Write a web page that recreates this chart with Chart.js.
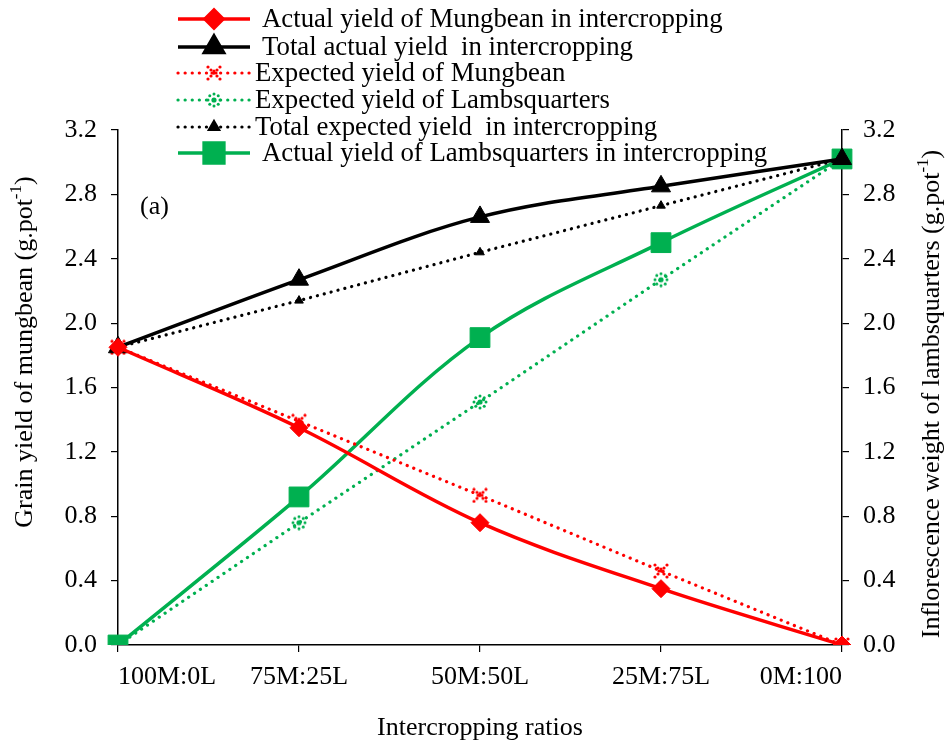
<!DOCTYPE html>
<html>
<head>
<meta charset="utf-8">
<script src="https://cdn.jsdelivr.net/npm/chart.js@4.4.1/dist/chart.umd.min.js"></script>
<style>
  html, body { margin: 0; padding: 0; background: #ffffff; }
  #wrap { width: 946px; height: 747px; position: relative; }
</style>
</head>
<body>
<div id="wrap"><canvas id="c" width="946" height="747"></canvas></div>
<script>
// Intercropping ratios (x categories)
const ratios = ['100M:0L', '75M:25L', '50M:50L', '25M:75L', '0M:100'];

// Yields, g.pot-1
const mungbeanActual   = [1.85, 1.35, 0.76, 0.35, 0.00];
const totalActual      = [1.85, 2.27, 2.66, 2.85, 3.02];
const mungbeanExpected = [1.85, 1.39, 0.93, 0.46, 0.00];
const lambsExpected    = [0.00, 0.76, 1.51, 2.27, 3.02];
const totalExpected    = [1.85, 2.14, 2.44, 2.73, 3.02];
const lambsActual      = [0.00, 0.92, 1.91, 2.50, 3.02];

// Axis range and tick step shared by both y axes
const yMin = 0, yMax = 3.2, yStep = 0.4;

const RED = '#ff0000', GREEN = '#00b050', BLACK = '#000000';
const SERIF = '"Liberation Serif", "Times New Roman", serif';
const FS = 26;

// Small dotted marker images for the expected-yield series
function dotMarker(color, dots, size, r) {
  const cv = document.createElement('canvas');
  cv.width = size; cv.height = size;
  const g = cv.getContext('2d');
  g.fillStyle = color;
  dots.forEach(([x, y, rr]) => {
    g.beginPath(); g.arc(x, y, rr || r, 0, Math.PI * 2); g.fill();
  });
  return cv;
}
const redStar = dotMarker(RED, [
  [2, 2], [14, 2], [2, 14], [14, 14], [5, 5], [11, 5], [5, 11], [11, 11],
  [6, 8], [8, 8], [10, 8], [8, 6]
], 16, 1.6);
const greenRing = (() => {
  const pts = [];
  for (let k = 0; k < 8; k++) {
    const a = k * Math.PI / 4;
    pts.push([8 + 6 * Math.cos(a), 8 + 6 * Math.sin(a)]);
  }
  pts.push([8, 8, 2.6]);
  return dotMarker(GREEN, pts, 16, 1.5);
})();

const DOT_DASH = [0.1, 7];

const datasets = [
  { label: 'Actual yield of Mungbean in intercropping', data: mungbeanActual, yAxisID: 'y',
    borderColor: RED, backgroundColor: RED, borderWidth: 3.5, tension: 0.35,
    pointStyle: 'rectRot', pointRadius: 9, pointBorderWidth: 1, pointBackgroundColor: RED, pointBorderColor: RED },
  { label: 'Total actual yield  in intercropping', data: totalActual, yAxisID: 'y',
    borderColor: BLACK, backgroundColor: BLACK, borderWidth: 3.5, tension: 0.35,
    pointStyle: 'triangle', pointRadius: 11, pointBorderWidth: 1, pointBackgroundColor: BLACK, pointBorderColor: BLACK },
  { label: 'Expected yield of Mungbean', data: mungbeanExpected, yAxisID: 'y',
    borderColor: RED, backgroundColor: RED, borderWidth: 3.2, borderDash: DOT_DASH, borderCapStyle: 'round',
    tension: 0, pointStyle: redStar, pointRadius: 8 },
  { label: 'Expected yield of Lambsquarters', data: lambsExpected, yAxisID: 'y1',
    borderColor: GREEN, backgroundColor: GREEN, borderWidth: 3.2, borderDash: DOT_DASH, borderCapStyle: 'round',
    tension: 0, pointStyle: greenRing, pointRadius: 8 },
  { label: 'Total expected yield  in intercropping', data: totalExpected, yAxisID: 'y',
    borderColor: BLACK, backgroundColor: BLACK, borderWidth: 3.2, borderDash: DOT_DASH, borderCapStyle: 'round',
    tension: 0, pointStyle: 'triangle', pointRadius: 5, pointBorderWidth: 1, pointBackgroundColor: BLACK, pointBorderColor: BLACK },
  { label: 'Actual yield of Lambsquarters in intercropping', data: lambsActual, yAxisID: 'y1',
    borderColor: GREEN, backgroundColor: GREEN, borderWidth: 3.5, tension: 0.35,
    pointStyle: 'rect', pointRadius: 14, pointBorderWidth: 1, pointBackgroundColor: GREEN, pointBorderColor: GREEN }
];

// Single-column legend drawn over the top of the plot
const LEGEND_ROWS = [19, 47, 73, 100, 127, 153];
const stackedLegend = {
  id: 'stackedLegend',
  afterDraw(chart) {
    const ctx = chart.ctx;
    chart.data.datasets.forEach((ds, i) => {
      const y = LEGEND_ROWS[i];
      const dotted = !!ds.borderDash;
      ctx.save();
      ctx.strokeStyle = ds.borderColor;
      ctx.lineWidth = ds.borderWidth;
      ctx.lineCap = ds.borderCapStyle || 'butt';
      ctx.setLineDash(ds.borderDash || []);
      ctx.beginPath(); ctx.moveTo(178, y); ctx.lineTo(250, y); ctx.stroke();
      ctx.setLineDash([]);
      const ps = ds.pointStyle;
      if (ps instanceof HTMLCanvasElement) {
        ctx.drawImage(ps, 214 - ps.width / 2, y - ps.height / 2);
      } else {
        ctx.fillStyle = ds.pointBackgroundColor;
        ctx.strokeStyle = ds.pointBorderColor;
        Chart.helpers.drawPoint(ctx, {
          pointStyle: ps, radius: ds.pointRadius, rotation: 0, borderWidth: ds.pointBorderWidth
        }, 214, y);
      }
      ctx.fillStyle = '#000';
      ctx.font = '26.8px ' + SERIF;
      ctx.textBaseline = 'middle';
      ctx.textAlign = 'left';
      ctx.fillText(ds.label, dotted ? 255 : 262, y + 1);
      ctx.restore();
    });
  }
};

// Rotated axis title with a superscript unit exponent, reading bottom to top
function drawUnitTitle(ctx, main, cx, cy) {
  const parts = [
    { t: main + ' (g.pot', sup: false },
    { t: '-1', sup: true },
    { t: ')', sup: false }
  ];
  const mainFont = FS + 'px ' + SERIF;
  const supFont = Math.round(FS * 0.66) + 'px ' + SERIF;
  ctx.save();
  ctx.translate(cx, cy);
  ctx.rotate(-Math.PI / 2);
  ctx.fillStyle = '#000';
  ctx.textBaseline = 'middle';
  ctx.textAlign = 'left';
  let total = 0;
  parts.forEach(p => { ctx.font = p.sup ? supFont : mainFont; p.w = ctx.measureText(p.t).width; total += p.w; });
  let x = -total / 2;
  parts.forEach(p => {
    ctx.font = p.sup ? supFont : mainFont;
    ctx.fillText(p.t, x, p.sup ? -8 : 0);
    x += p.w;
  });
  ctx.restore();
}

// Panel tag and the two y-axis titles
const annotations = {
  id: 'annotations',
  afterDraw(chart) {
    const ctx = chart.ctx;
    ctx.save();
    ctx.fillStyle = '#000';
    ctx.font = FS + 'px ' + SERIF;
    ctx.textBaseline = 'middle';
    ctx.textAlign = 'left';
    ctx.fillText('(a)', 140, 207);
    ctx.restore();
    drawUnitTitle(ctx, 'Grain yield of mungbean', 25, 352);
    drawUnitTitle(ctx, 'Inflorescence weight of lambsquarters', 932, 394);
  }
};

const tickFont = { family: SERIF, size: FS };
const yTickCb = v => Number(v).toFixed(1);
const axisGrid = { display: true, drawOnChartArea: false, drawTicks: true, tickLength: 7, color: BLACK, lineWidth: 1.2 };
const axisBorder = { display: true, color: BLACK, width: 1.5 };

new Chart(document.getElementById('c'), {
  type: 'line',
  data: { labels: ratios, datasets },
  plugins: [stackedLegend, annotations],
  options: {
    responsive: false,
    devicePixelRatio: 1,
    animation: false,
    layout: { padding: { top: 130, left: 0, right: 0, bottom: 0 } },
    plugins: { legend: { display: false }, tooltip: { enabled: false } },
    scales: {
      x: {
        type: 'category',
        offset: false,
        grid: axisGrid,
        border: axisBorder,
        ticks: { color: BLACK, font: tickFont, padding: 10, maxRotation: 0, autoSkip: false, align: 'inner' },
        title: { display: true, text: 'Intercropping ratios', color: BLACK, font: { family: SERIF, size: FS }, padding: { top: 0, bottom: 3 } },
        afterFit: s => { s.height = 102; }
      },
      y: {
        position: 'left', min: yMin, max: yMax,
        grid: axisGrid,
        border: axisBorder,
        ticks: { stepSize: yStep, color: BLACK, font: tickFont, padding: 14, callback: yTickCb },
        afterFit: s => { s.width = 118; }
      },
      y1: {
        position: 'right', min: yMin, max: yMax,
        grid: axisGrid,
        border: axisBorder,
        ticks: { stepSize: yStep, color: BLACK, font: tickFont, padding: 14, callback: yTickCb },
        afterFit: s => { s.width = 104; }
      }
    }
  }
});
</script>
</body>
</html>
